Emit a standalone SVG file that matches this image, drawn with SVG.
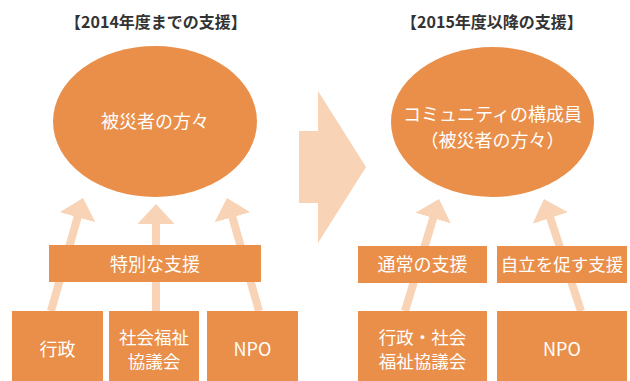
<svg xmlns="http://www.w3.org/2000/svg" width="630" height="381" viewBox="0 0 630 381">
  <style>
    .title { font-family: "Noto Sans CJK JP", "Noto Sans", sans-serif; font-size: 16px; font-weight: bold; fill: #333333; text-anchor: middle; }
    .lbl { font-family: "Noto Sans CJK JP", "Noto Sans", sans-serif; font-size: 18px; fill: #FFFFFF; text-anchor: middle; }
    .lbl2 { font-family: "Noto Sans CJK JP", "Noto Sans", sans-serif; font-size: 17.5px; fill: #FFFFFF; text-anchor: middle; }
    .node { fill: #EA8F49; }
    .light { fill: #F8D3B5; }
    .arr { stroke: #F8D3B5; stroke-width: 8; fill: none; marker-end: url(#head); }
  </style>
  <defs>
    <marker id="head" markerUnits="userSpaceOnUse" markerWidth="22" markerHeight="40" viewBox="0 -20 22 40" refX="2" refY="0" orient="auto">
      <path d="M0,-18.5 L20,0 L0,18.5 Z" fill="#F8D3B5"/>
    </marker>
  </defs>

  <rect width="630" height="381" fill="#FFFFFF"/>

  <text class="title" x="156" y="28">【2014年度までの支援】</text>
  <text class="title" x="492" y="28">【2015年度以降の支援】</text>

  <g id="transition">
    <polygon class="light" points="299,131 318,131 318,91 366,167 318,243 318,203 299,203"/>
  </g>

  <g id="connectors">
    <line class="arr" x1="51" y1="311" x2="78.1" y2="215.3"/>
    <line class="arr" x1="156" y1="311" x2="156" y2="222"/>
    <line class="arr" x1="259" y1="311" x2="231.9" y2="215.3"/>
    <line class="arr" x1="405" y1="311" x2="433.8" y2="216.2"/>
    <line class="arr" x1="581" y1="311" x2="549.6" y2="216.1"/>
  </g>

  <g id="victims2014">
    <ellipse class="node" cx="155" cy="121.5" rx="102" ry="75.5"/>
    <text class="lbl" x="155" y="128">被災者の方々</text>
  </g>

  <g id="community2015">
    <ellipse class="node" cx="492.5" cy="122" rx="101.5" ry="75"/>
    <text class="lbl" x="492.5" y="121">コミュニティの構成員</text>
    <text class="lbl" x="492.5" y="147">（被災者の方々）</text>
  </g>

  <g id="special">
    <rect class="node" x="49" y="245" width="212" height="37"/>
    <text class="lbl" x="155" y="271">特別な支援</text>
  </g>

  <g id="gov">
    <rect class="node" x="12" y="311" width="91" height="70"/>
    <text class="lbl" x="57.5" y="356">行政</text>
  </g>

  <g id="council">
    <rect class="node" x="109" y="311" width="90" height="70"/>
    <text class="lbl2" x="154" y="344">社会福祉</text>
    <text class="lbl2" x="154" y="368">協議会</text>
  </g>

  <g id="npo2014">
    <rect class="node" x="207" y="311" width="91" height="70"/>
    <text class="lbl" x="252.5" y="356">NPO</text>
  </g>

  <g id="normal">
    <rect class="node" x="358" y="246" width="129" height="37"/>
    <text class="lbl" x="422.5" y="271">通常の支援</text>
  </g>

  <g id="selfreliance">
    <rect class="node" x="497" y="246" width="130" height="37"/>
    <text class="lbl" x="562" y="271" style="font-size:17.5px">自立を促す支援</text>
  </g>

  <g id="govcouncil">
    <rect class="node" x="358" y="311" width="129" height="70"/>
    <text class="lbl2" x="422.5" y="344">行政・社会</text>
    <text class="lbl2" x="422.5" y="368">福祉協議会</text>
  </g>

  <g id="npo2015">
    <rect class="node" x="497" y="311" width="130" height="70"/>
    <text class="lbl" x="562" y="356">NPO</text>
  </g>
</svg>
